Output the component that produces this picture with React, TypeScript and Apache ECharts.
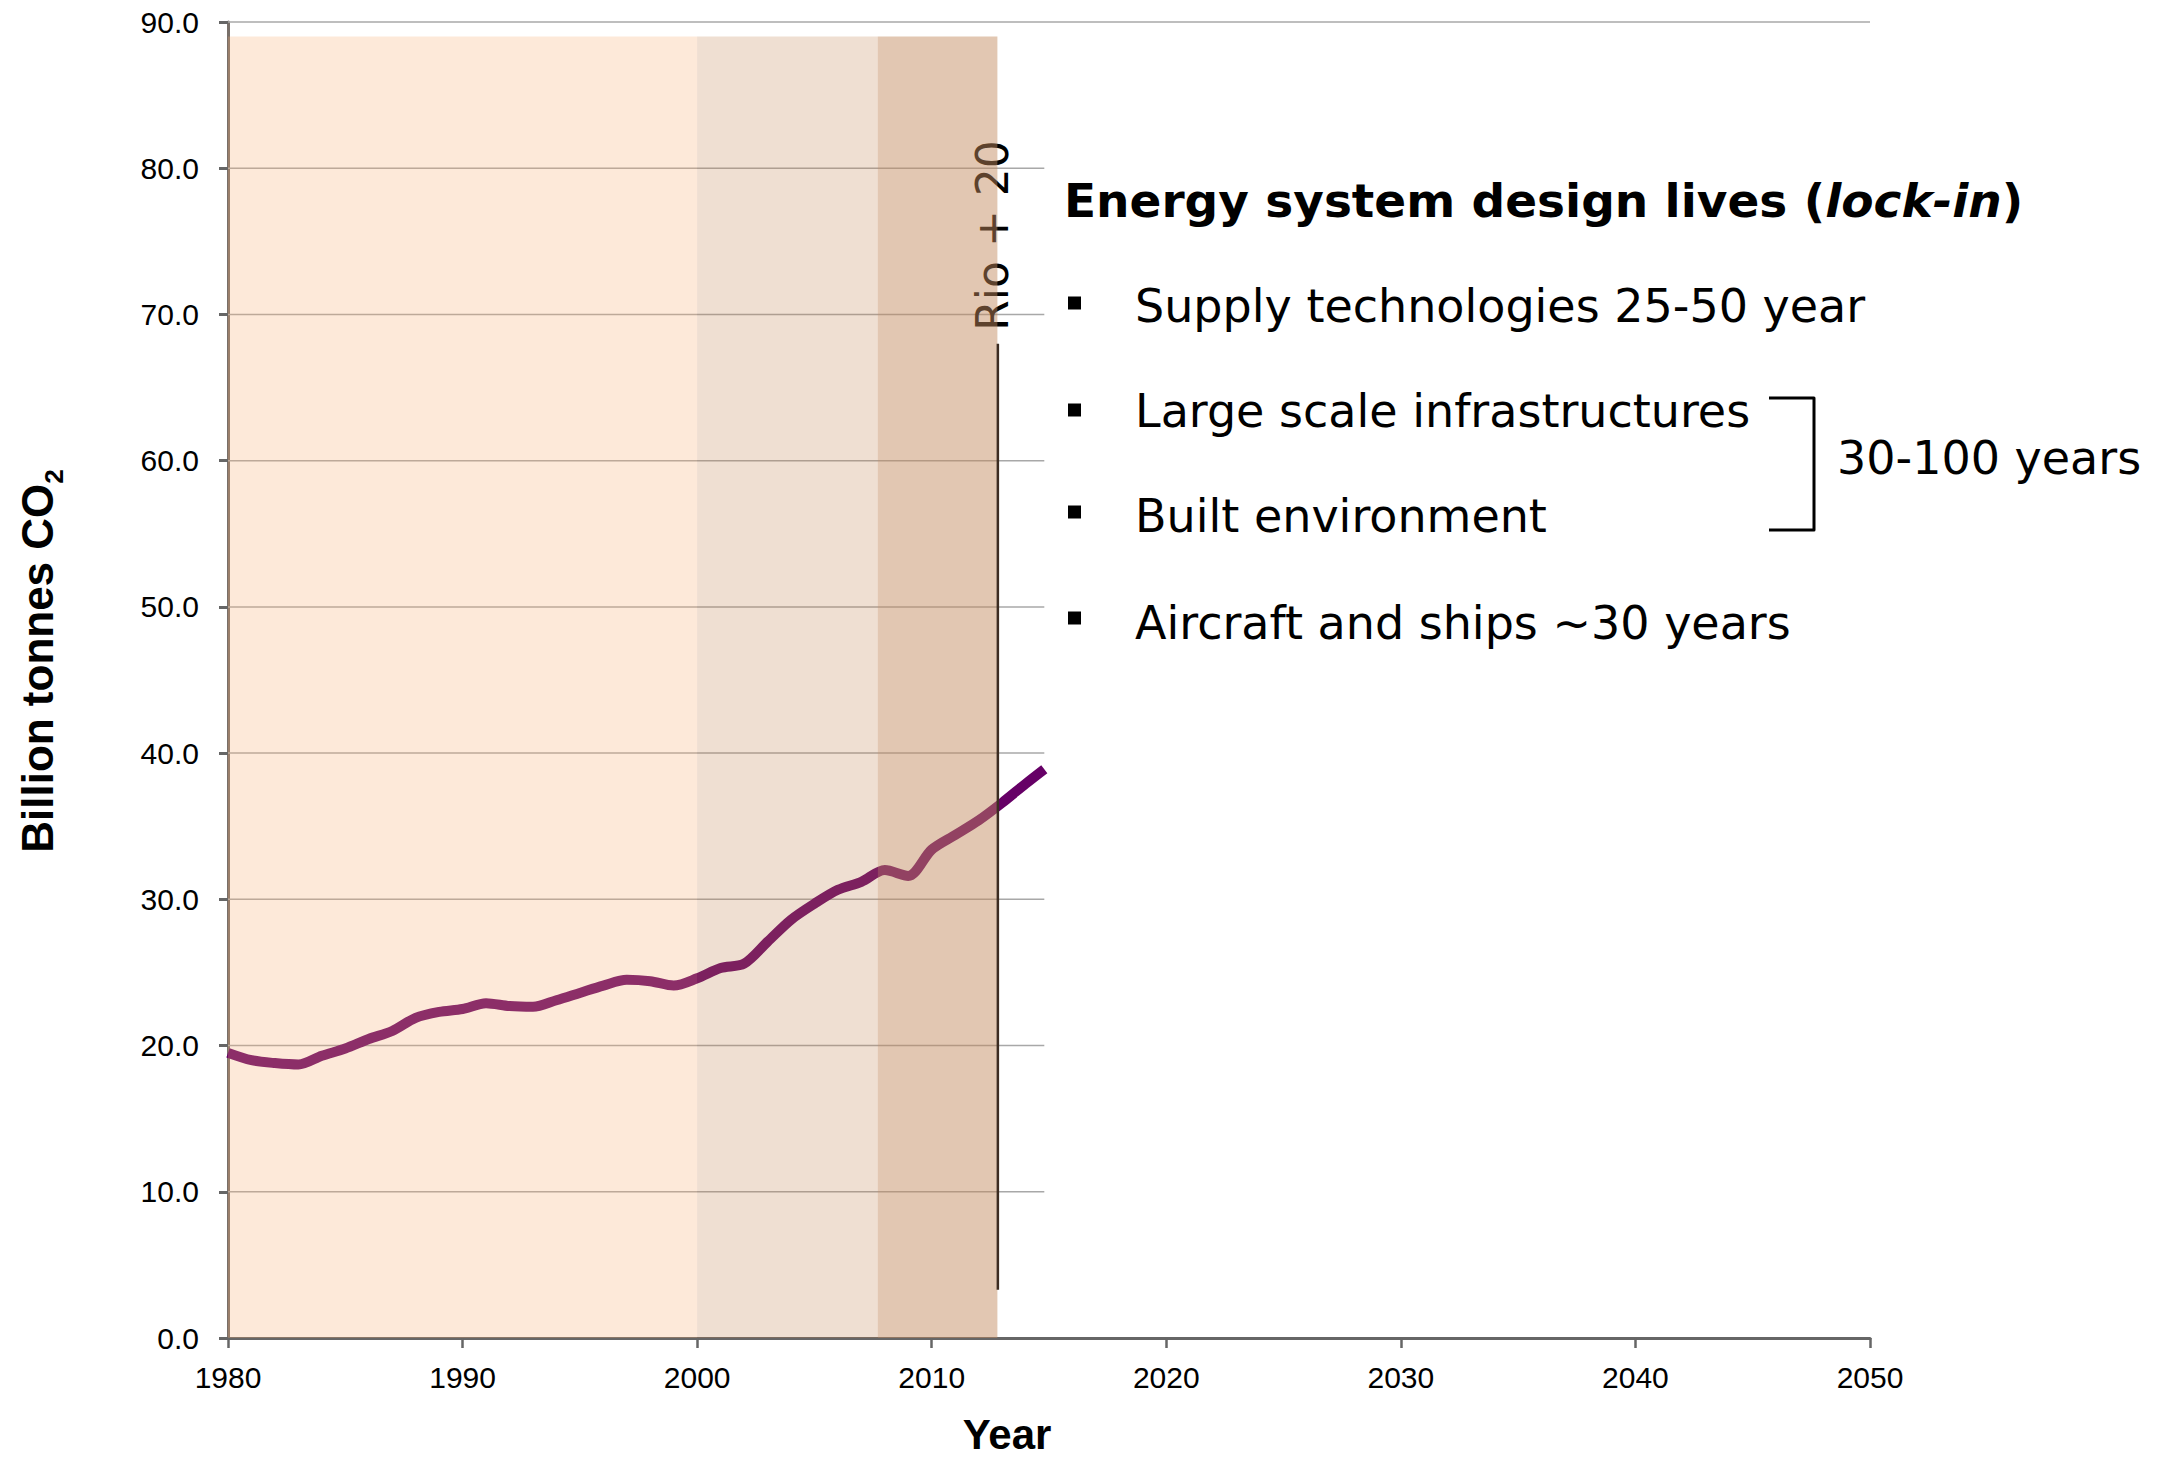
import React, { useEffect, useRef } from "react";
import * as echarts from "echarts";

// ---- Data ----
const YEARS = [
  1980, 1981, 1982, 1983, 1984, 1985, 1986, 1987, 1988, 1989,
  1990, 1991, 1992, 1993, 1994, 1995, 1996, 1997, 1998, 1999,
  2000, 2001, 2002, 2003, 2004, 2005, 2006, 2007, 2008, 2009,
  2010, 2011, 2012, 2013, 2014, 2014.8,
];
const EMISSIONS = [
  19.5, 19.0, 18.8, 18.7, 19.3, 19.8, 20.45, 21.0, 21.9, 22.3,
  22.5, 22.9, 22.7, 22.65, 23.1, 23.6, 24.1, 24.5, 24.4, 24.1,
  24.6, 25.3, 25.6, 27.1, 28.6, 29.7, 30.65, 31.2, 32.0, 31.6,
  33.4, 34.4, 35.4, 36.6, 37.9, 38.9,
];
const X_MIN = 1980;
const X_MAX = 2050;
const X_STEP = 10;
const Y_MIN = 0;
const Y_MAX = 90;
const Y_STEP = 10;
const GRID_VALUES = [10, 20, 30, 40, 50, 60, 70, 80, 90];
const GRID_ENDS = [2014.8, 2014.8, 2014.8, 2014.8, 2014.8, 2014.8, 2014.8, 2014.8, 2050];
const BAND_STARTS = [1980, 2000, 2007.7];
const BAND_ENDS = [2000, 2007.7, 2012.8];
const BAND_TOP = 89;
const BAND_COLORS = [
  "rgba(248,172,112,0.265)",
  "rgba(191,127,75,0.25)",
  "rgba(195,138,95,0.48)",
];
const RIO_YEAR = 2012.82;
const RIO_FROM = 3.3;
const RIO_TO = 68.0;
const RIO_LABEL = "Rio + 20";
const RIO_LABEL_YEAR = 2012.58;
const RIO_LABEL_VALUE = 75.4;

const X_AXIS_NAME = "Year";
const Y_AXIS_NAME_MAIN = "Billion tonnes CO";
const Y_AXIS_NAME_SUB = "2";

const TITLE_PARTS = ["Energy system design lives (", "lock-in", ")"];
const BULLETS = [
  "Supply technologies 25-50 year",
  "Large scale infrastructures",
  "Built environment",
  "Aircraft and ships ~30 years",
];
const BRACKET_LABEL = "30-100 years";

// ---- Layout (pixels) ----
const W = 2167;
const H = 1457;
const GRID = { left: 228, right: 297, top: 22, bottom: 119 };
const BULLET_Y = [306, 411, 516, 623];
const BULLET_SQ_Y = [303, 410, 512, 618];

export default function App() {
  const ref = useRef<HTMLDivElement>(null);

  useEffect(() => {
    document.body.style.margin = "0";
    if (!ref.current) return;
    const chart = echarts.init(ref.current, undefined, { renderer: "svg" });

    const axisFont = "Liberation Sans, Arial, sans-serif";
    const textFont = "DejaVu Sans, Verdana, sans-serif";

    const graphics: any[] = [];
    // Title
    graphics.push({
      type: "text",
      x: 1064,
      y: 200,
      style: {
        text: `{b|${TITLE_PARTS[0]}}{bi|${TITLE_PARTS[1]}}{b|${TITLE_PARTS[2]}}`,
        rich: {
          b: { fontSize: 47, fontWeight: "bold", fontFamily: textFont, fill: "#000" },
          bi: { fontSize: 47, fontWeight: "bold", fontStyle: "italic", fontFamily: textFont, fill: "#000" },
        },
        align: "left",
        textAlign: "left",
        verticalAlign: "middle",
        textVerticalAlign: "middle",
      },
    });
    BULLETS.forEach((t, i) => {
      graphics.push({
        type: "rect",
        shape: { x: 1068, y: BULLET_SQ_Y[i] - 6.5, width: 13, height: 13 },
        style: { fill: "#000" },
      });
      graphics.push({
        type: "text",
        x: 1135,
        y: BULLET_Y[i],
        style: {
          text: t,
          fontSize: 46,
          fontFamily: textFont,
          fill: "#000",
          align: "left",
          textAlign: "left",
          verticalAlign: "middle",
          textVerticalAlign: "middle",
        },
      });
    });
    // Bracket
    graphics.push({
      type: "polyline",
      shape: { points: [[1769, 398], [1814, 398], [1814, 530], [1769, 530]] },
      style: { stroke: "#000", lineWidth: 3, fill: null, lineJoin: "round" },
    });
    graphics.push({
      type: "text",
      x: 1837,
      y: 458,
      style: {
        text: BRACKET_LABEL,
        fontSize: 46,
        fontFamily: textFont,
        fill: "#000",
        align: "left",
        textAlign: "left",
        verticalAlign: "middle",
        textVerticalAlign: "middle",
      },
    });
    // Axis names
    graphics.push({
      type: "text",
      x: 1007,
      y: 1434,
      style: {
        text: X_AXIS_NAME,
        fontSize: 42,
        lineHeight: 34,
        fontWeight: "bold",
        fontFamily: axisFont,
        fill: "#000",
        align: "center",
        textAlign: "center",
        verticalAlign: "middle",
        textVerticalAlign: "middle",
      },
    });
    graphics.push({
      type: "text",
      x: 37,
      y: 661,
      rotation: Math.PI / 2,
      style: {
        text: `{m|${Y_AXIS_NAME_MAIN}}{s|${Y_AXIS_NAME_SUB}}`,
        rich: {
          m: { fontSize: 44, fontWeight: "bold", fontFamily: axisFont, fill: "#000", lineHeight: 60, verticalAlign: "middle" },
          s: { fontSize: 26, fontWeight: "bold", fontFamily: axisFont, fill: "#000", lineHeight: 26, verticalAlign: "bottom" },
        },
        align: "center",
        textAlign: "center",
        verticalAlign: "middle",
        textVerticalAlign: "middle",
      },
    });

    const option: any = {
      animation: false,
      backgroundColor: "#ffffff",
      grid: { ...GRID, containLabel: false },
      xAxis: {
        type: "value",
        min: X_MIN,
        max: X_MAX,
        interval: X_STEP,
        axisLine: { show: true, lineStyle: { color: "#666666", width: 3 } },
        axisTick: { show: true, length: 10, lineStyle: { color: "#666666", width: 2.5 } },
        axisLabel: {
          color: "#000",
          fontSize: 30,
          fontFamily: axisFont,
          margin: 24,
          formatter: (v: number) => String(v),
        },
        splitLine: { show: false },
      },
      yAxis: {
        type: "value",
        min: Y_MIN,
        max: Y_MAX,
        interval: Y_STEP,
        axisLine: { show: true, lineStyle: { color: "#786f69", width: 3 } },
        axisTick: { show: true, length: 9, lineStyle: { color: "#666666", width: 3 } },
        axisLabel: {
          color: "#000",
          fontSize: 30,
          fontFamily: axisFont,
          margin: 29,
          formatter: (v: number) => v.toFixed(1),
        },
        splitLine: { show: false },
      },
      graphic: { elements: graphics },
      series: [
        {
          type: "custom",
          name: "gridlines",
          z: 1,
          silent: true,
          encode: { x: 1, y: 0 },
          data: GRID_VALUES.map((v, i) => [v, GRID_ENDS[i]]),
          renderItem: (_p: any, api: any) => {
            const v = api.value(0);
            const e = api.value(1);
            const a = api.coord([X_MIN, v]);
            const b = api.coord([e, v]);
            return {
              type: "line",
              shape: { x1: a[0], y1: a[1], x2: b[0], y2: b[1] },
              style: { stroke: "#a8a8a8", lineWidth: 1.5 },
            };
          },
        },
        {
          type: "line",
          name: "CO2",
          z: 2,
          silent: true,
          smooth: 0.3,
          showSymbol: false,
          data: YEARS.map((y, i) => [y, EMISSIONS[i]]),
          lineStyle: { color: "#660066", width: 10 },
        },
        {
          type: "custom",
          name: "rioLabel",
          z: 2,
          silent: true,
          data: [[RIO_LABEL_YEAR, RIO_LABEL_VALUE]],
          renderItem: (_p: any, api: any) => {
            const p = api.coord([api.value(0), api.value(1)]);
            return {
              type: "text",
              x: p[0],
              y: p[1],
              rotation: Math.PI / 2,
              style: {
                text: RIO_LABEL,
                fontSize: 44,
                fontFamily: textFont,
                fill: "#000",
                align: "center",
                textAlign: "center",
                verticalAlign: "middle",
                textVerticalAlign: "middle",
              },
            };
          },
        },
        {
          type: "custom",
          name: "bands",
          z: 3,
          silent: true,
          data: BAND_STARTS.map((s, i) => [s, BAND_ENDS[i], BAND_TOP]),
          renderItem: (p: any, api: any) => {
            const a = api.coord([api.value(0), api.value(2)]);
            const b = api.coord([api.value(1), 0]);
            return {
              type: "rect",
              shape: { x: a[0], y: a[1], width: b[0] - a[0], height: b[1] - a[1] },
              style: { fill: BAND_COLORS[p.dataIndex] },
            };
          },
        },
        {
          type: "custom",
          name: "rioLine",
          z: 4,
          silent: true,
          data: [[RIO_YEAR, RIO_FROM, RIO_TO]],
          renderItem: (_p: any, api: any) => {
            const a = api.coord([api.value(0), api.value(1)]);
            const b = api.coord([api.value(0), api.value(2)]);
            return {
              type: "line",
              shape: { x1: a[0], y1: a[1], x2: b[0], y2: b[1] },
              style: { stroke: "#3c2c22", lineWidth: 2.5 },
            };
          },
        },
      ],
    };

    chart.setOption(option);
    return () => chart.dispose();
  }, []);

  return <div ref={ref} style={{ width: W, height: H }} />;
}
